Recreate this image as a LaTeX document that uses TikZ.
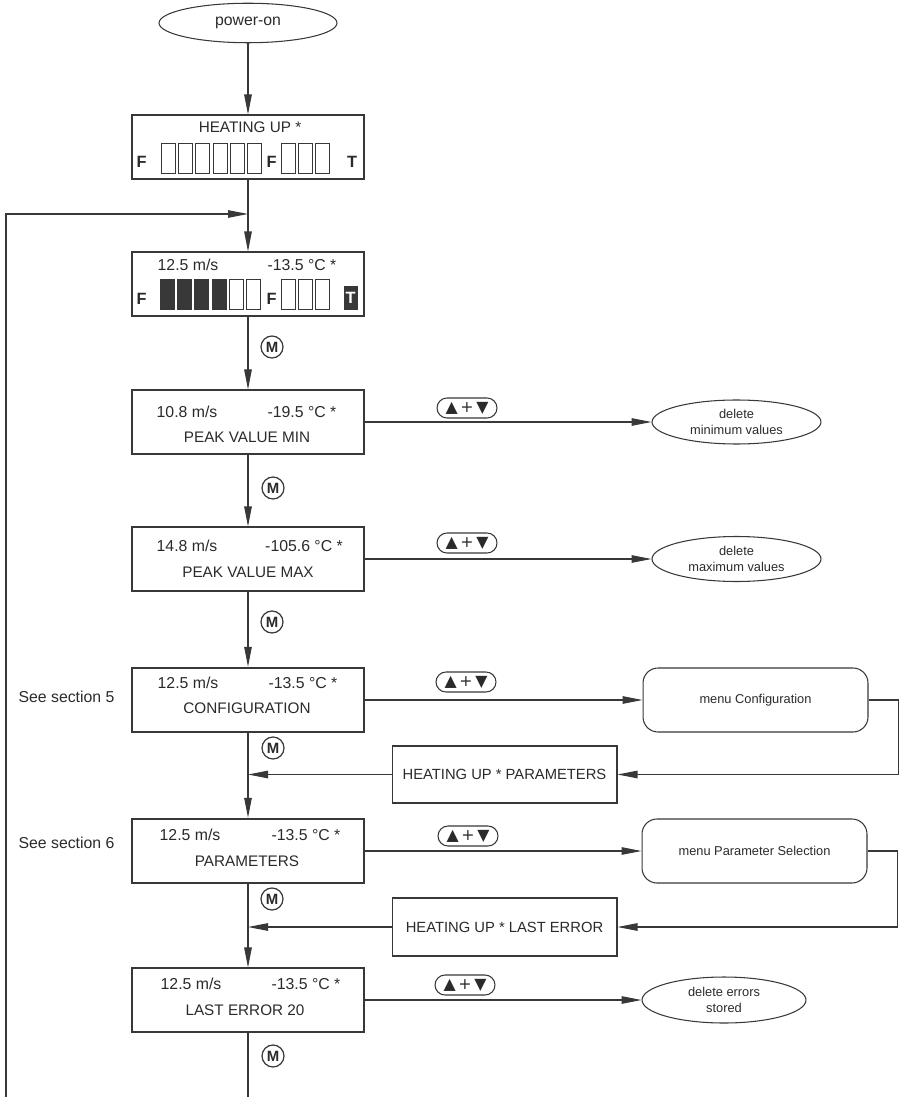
\documentclass[tikz,border=0pt]{standalone}
\usepackage{fontspec}
\setmainfont{Liberation Sans}
\newfontfamily\symfont{DejaVu Sans}
\usepackage{tikz}
\usetikzlibrary{shapes.geometric,arrows.meta,positioning,calc}
\definecolor{inkc}{HTML}{2A2A2A}
\definecolor{linec}{HTML}{383838}
\newcommand{\dispfont}{\fontsize{9}{10.8}\selectfont}
\newcommand{\titlefont}{\fontsize{8.7}{10.4}\selectfont}
\newcommand{\retfont}{\fontsize{8.4}{10}\selectfont}
\newcommand{\notefont}{\fontsize{7.3}{9}\selectfont}

\tikzset{
  wire/.style={draw=linec,line width=0.6pt},
  flow/.style={wire,-{Triangle[length=0.4cm,width=0.15cm]}},
  lcd/.style={draw=linec,line width=0.6pt,minimum width=4.64cm,minimum height=1.28cm,inner sep=0},
  lcdsel/.style={lcd,line width=1.4pt},
  disp/.style={font=\dispfont,text=inkc,inner sep=0},
  title/.style={font=\titlefont,text=inkc,inner sep=0},
  segbar/.style={draw=linec,line width=0.6pt},
  seglab/.style={font=\fontsize{9.3}{9.3}\selectfont\bfseries,text=inkc,inner sep=0},
  oval/.style={ellipse,draw=linec,line width=0.6pt,inner sep=0,align=center,font=\notefont,text=inkc},
  menubox/.style={draw=linec,line width=0.6pt,rounded corners=0.3cm,minimum width=4.5cm,minimum height=1.28cm,font=\notefont,text=inkc},
  retbox/.style={draw=linec,line width=0.6pt,minimum width=4.5cm,font=\retfont,text=inkc},
  mkey/.style={circle,draw=linec,line width=0.7pt,minimum size=0.44cm,inner sep=0,font=\fontsize{8.5}{8.5}\selectfont\bfseries,text=inkc},
  pill/.style={draw=linec,line width=0.6pt,rounded corners=0.2cm,minimum width=1.2cm,minimum height=0.4cm,inner sep=0,font=\symfont\fontsize{9}{9}\selectfont,text=inkc},
}

\begin{document}
\begin{tikzpicture}[x=0.02cm,y=0.02cm,line cap=butt]
\useasboundingbox (0,0) rectangle (919,-1097);

%% start
\node[oval,minimum width=3.56cm,minimum height=0.79cm,font=\dispfont] (poweron) at (248,-23) {power-on};

%% display boxes (main column)
\node[lcd]    (heat)    at (248,-147)  {};
\node[lcd]    (live)    at (248,-284)  {};
\node[lcd]    (pkmin)   at (248,-422)  {};
\node[lcd]    (pkmax)   at (248,-559)  {};
\node[lcdsel] (config)  at (248,-700)  {};
\node[lcdsel] (param)   at (248,-851)  {};
\node[lcd]    (lasterr) at (248,-1000) {};

%% texts of the displays
\node[title] (heat-t)    at (250,-127)  {HEATING UP *};
\node[disp]  (live-v)    at (188,-265)  {12.5 m/s};
\node[disp]  (live-c)    at (302,-265)  {-13.5 °C *};
\node[disp]  (pkmin-v)   at (187,-412)  {10.8 m/s};
\node[disp]  (pkmin-c)   at (302,-412)  {-19.5 °C *};
\node[title] (pkmin-t)   at (247,-437)  {PEAK VALUE MIN};
\node[disp]  (pkmax-v)   at (187,-546)  {14.8 m/s};
\node[disp]  (pkmax-c)   at (304,-546)  {-105.6 °C *};
\node[title] (pkmax-t)   at (248,-572)  {PEAK VALUE MAX};
\node[disp]  (config-v)  at (188,-683)  {12.5 m/s};
\node[disp]  (config-c)  at (303,-683)  {-13.5 °C *};
\node[title] (config-t)  at (247,-708)  {CONFIGURATION};
\node[disp]  (param-v)   at (190,-835)  {12.5 m/s};
\node[disp]  (param-c)   at (306,-835)  {-13.5 °C *};
\node[title] (param-t)   at (247,-861)  {PARAMETERS};
\node[disp]  (lasterr-v) at (191,-984)  {12.5 m/s};
\node[disp]  (lasterr-c) at (306,-984)  {-13.5 °C *};
\node[title] (lasterr-t) at (245,-1010) {LAST ERROR 20};

%% bar graph, heating up (all segments empty)
\foreach \i in {0,...,5}
  \draw[segbar] ($(heat.south west)+(30+17.2*\i,6)$) rectangle ++(14,30);
\foreach \i in {0,1,2}
  \draw[segbar] ($(heat.south west)+(150+17.2*\i,6)$) rectangle ++(14,30);
\node[seglab] (heat-f1) at ($(heat.south west)+(10,18)$)    {F};
\node[seglab] (heat-f2) at ($(heat.south west)+(140,18)$)   {F};
\node[seglab] (heat-tt) at ($(heat.south west)+(220.5,18)$) {T};

%% bar graph, live values (four segments lit)
\foreach \i/\f in {0/linec,1/linec,2/linec,3/linec,4/white,5/white}
  \draw[segbar,fill=\f] ($(live.south west)+(29+17.2*\i,7)$) rectangle ++(14,30);
\foreach \i in {0,1,2}
  \draw[segbar] ($(live.south west)+(150+17.2*\i,7)$) rectangle ++(14,30);
\node[seglab] (live-f1) at ($(live.south west)+(10,18)$)  {F};
\node[seglab] (live-f2) at ($(live.south west)+(140,18)$) {F};
\fill[linec] ($(live.south west)+(212,7)$) rectangle ++(14,24);
\node[seglab,text=white] (live-tt) at ($(live.south west)+(219,19)$) {T};

%% main flow
\coordinate (loopin)  at (248,-214);
\coordinate (loopend) at (6,-1097);
\coordinate (mainend) at (248,-1097);
\draw[flow] (poweron) -- (heat);
\draw[flow] (heat) -- (live);
\draw[flow] (loopend) |- (loopin);
\draw[flow] (live) -- (pkmin);
\draw[flow] (pkmin) -- (pkmax);
\draw[flow] (pkmax) -- (config);
\draw[flow] (config) -- (param);
\draw[flow] (param) -- (lasterr);
\draw[wire] (lasterr) -- (mainend);

%% M key marks
\node[mkey] (m1) at (272,-347)  {M};
\node[mkey] (m2) at (273,-488)  {M};
\node[mkey] (m3) at (272,-622)  {M};
\node[mkey] (m4) at (273,-748)  {M};
\node[mkey] (m5) at (272,-899)  {M};
\node[mkey] (m6) at (273,-1056) {M};

%% side notes
\node[disp] (see5) at (66.5,-697) {See section 5};
\node[disp] (see6) at (66.5,-843) {See section 6};

%% right branches
\node[oval,minimum width=3.38cm,minimum height=0.88cm] (delmin) at (736.5,-422) {delete\\minimum values};
\node[oval,minimum width=3.38cm,minimum height=0.9cm]  (delmax) at (736.5,-559) {delete\\maximum values};
\node[menubox] (menucfg) at (755.5,-700) {menu Configuration};
\node[menubox] (menupar) at (754.5,-851) {menu Parameter Selection};
\node[retbox,minimum height=1.14cm] (retcfg) at (504.5,-774.5) {HEATING UP * PARAMETERS};
\node[retbox,minimum height=1.16cm] (retpar) at (504.5,-927)   {HEATING UP * LAST ERROR};
\node[oval,minimum width=3.28cm,minimum height=0.92cm] (delerr) at (724,-1000) {delete errors\\stored};

\draw[flow] (pkmin) -- (delmin);
\draw[flow] (pkmax) -- (delmax);
\draw[flow] (config) -- (menucfg);
\draw[flow] (menucfg.east) -- ++(30,0) |- (retcfg.east);
\draw[flow] (retcfg.west) -- (retcfg.west -| config.south);
\draw[flow] (param) -- (menupar);
\draw[flow] (menupar.east) -- ++(30,0) |- (retpar.east);
\draw[flow] (retpar.west) -- (retpar.west -| param.south);
\draw[flow] (lasterr) -- (delerr);

%% key combination marks
\node[pill] (k1) at (467,-408) {▲\,+\,▼};
\node[pill] (k2) at (467,-543) {▲\,+\,▼};
\node[pill] (k3) at (466,-682) {▲\,+\,▼};
\node[pill] (k4) at (468,-836) {▲\,+\,▼};
\node[pill] (k5) at (465,-985) {▲\,+\,▼};
\end{tikzpicture}
\end{document}
